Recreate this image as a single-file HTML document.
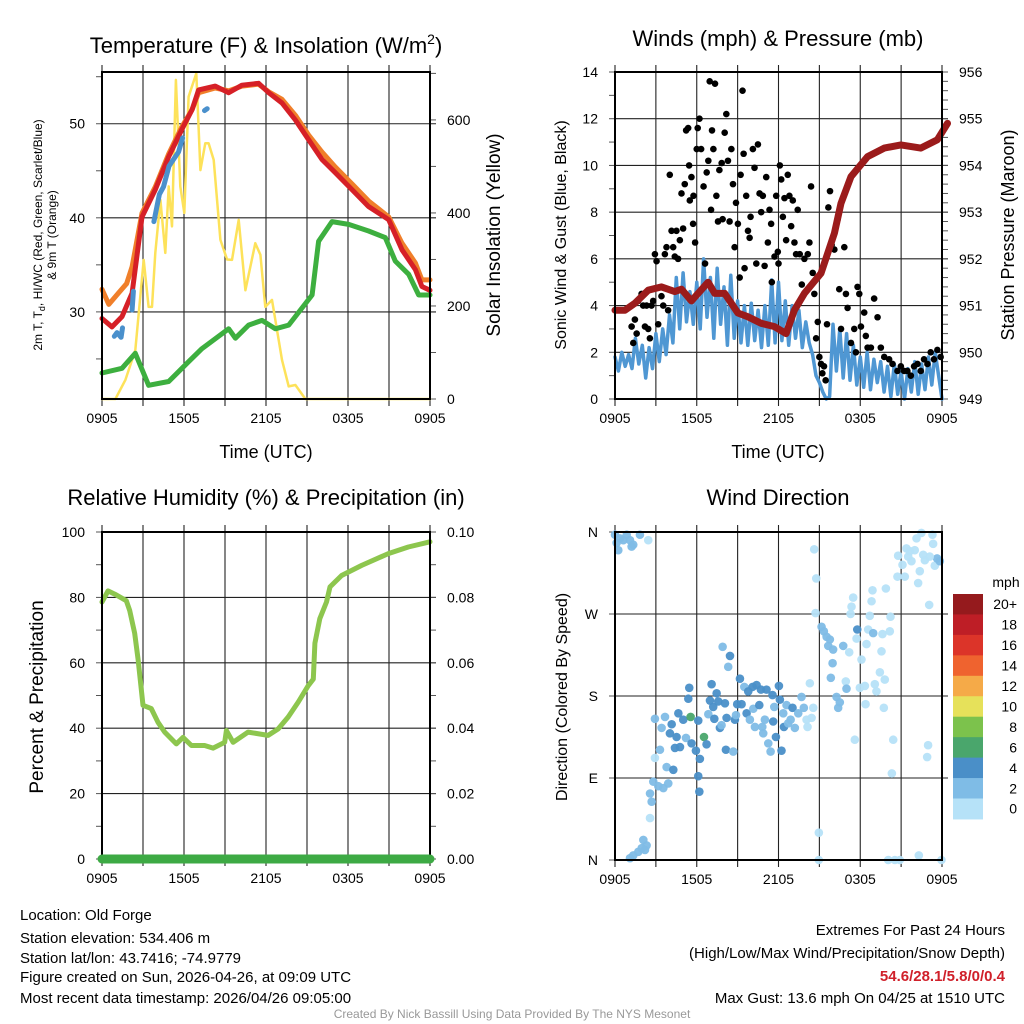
<!DOCTYPE html>
<html><head><meta charset="utf-8"><style>
html,body{margin:0;padding:0;background:#fff}
svg{display:block;font-family:"Liberation Sans",Arial,sans-serif}
</style></head><body>
<svg id="root" width="1024" height="1024" viewBox="0 0 1024 1024" xmlns="http://www.w3.org/2000/svg">
<rect width="1024" height="1024" fill="#fff"/>
<g id="p1"></g>
<g id="p2"></g>
<g id="p3"></g>
<g id="p4"></g>

<text x="266" y="53" font-size="22" text-anchor="middle">Temperature (F) &amp; Insolation (W/m<tspan font-size="14" dy="-9">2</tspan><tspan dy="9">)</tspan></text>
<text x="778" y="46" font-size="22" text-anchor="middle">Winds (mph) &amp; Pressure (mb)</text>
<text x="266" y="505" font-size="22" text-anchor="middle">Relative Humidity (%) &amp; Precipitation (in)</text>
<text x="778" y="505" font-size="22" text-anchor="middle">Wind Direction</text>

<text x="266" y="458" font-size="18" text-anchor="middle">Time (UTC)</text>
<text x="778" y="458" font-size="18" text-anchor="middle">Time (UTC)</text>

<text transform="translate(42,235) rotate(-90)" font-size="12" text-anchor="middle">2m T, T<tspan font-size="9" dy="3">d</tspan><tspan dy="-3">, HI/WC (Red, Green, Scarlet/Blue)</tspan></text>
<text transform="translate(56,235) rotate(-90)" font-size="12" text-anchor="middle">&amp; 9m T (Orange)</text>
<text transform="translate(500,235) rotate(-90)" font-size="19" text-anchor="middle">Solar Insolation (Yellow)</text>
<text transform="translate(566,235) rotate(-90)" font-size="16" text-anchor="middle">Sonic Wind &amp; Gust (Blue, Black)</text>
<text transform="translate(1014,235) rotate(-90)" font-size="18" text-anchor="middle">Station Pressure (Maroon)</text>
<text transform="translate(43,697) rotate(-90)" font-size="19" text-anchor="middle">Percent &amp; Precipitation</text>
<text transform="translate(567,697) rotate(-90)" font-size="16" text-anchor="middle">Direction (Colored By Speed)</text>

<g font-size="15">
<text x="20" y="920">Location: Old Forge</text>
<text x="20" y="943">Station elevation: 534.406 m</text>
<text x="20" y="963">Station lat/lon: 43.7416; -74.9779</text>
<text x="20" y="982">Figure created on Sun, 2026-04-26, at 09:09 UTC</text>
<text x="20" y="1003">Most recent data timestamp: 2026/04/26 09:05:00</text>
</g>
<g font-size="15" text-anchor="end">
<text x="1005" y="935">Extremes For Past 24 Hours</text>
<text x="1005" y="958">(High/Low/Max Wind/Precipitation/Snow Depth)</text>
<text x="1005" y="981" fill="#d0202a" font-weight="bold">54.6/28.1/5.8/0/0.4</text>
<text x="1005" y="1003">Max Gust: 13.6 mph On 04/25 at 1510 UTC</text>
</g>
<text x="512" y="1018" font-size="12" fill="#999" text-anchor="middle">Created By Nick Bassill Using Data Provided By The NYS Mesonet</text>
</svg>
<script>
// ---------- data ----------
const xTickLabels = ["0905","1505","2105","0305","0905"];
const tempHours = [0,0.73,1.46,2.2,2.93,3.9,4.88,5.85,6.59,7.07,8.29,9.27,10.24,11.46,12.2,13.17,14.15,15.12,16.1,17.07,18.29,19.5,20.98,21.95,22.93,23.41,24];
const tempVals  = [29.3,28.4,29.5,32.0,40.1,43.0,46.5,49.4,51.5,53.6,54.0,53.3,54.1,54.3,53.3,52.2,50.4,48.3,46.2,44.8,43.0,41.2,39.8,36.6,34.5,32.7,32.3];
const temp9Hours = [0,0.5,1.2,1.8,2.2,2.93,3.9,4.88,5.85,6.59,7.07,8.29,9.27,10.24,11.46,12.2,13.17,14.15,15.12,16.1,17.07,18.29,19.5,20.98,21.95,22.93,23.41,24];
const temp9Vals  = [32.4,30.8,32.0,33.0,34.8,40.5,43.3,46.8,49.7,51.5,53.3,53.8,53.5,54.0,54.2,53.4,52.6,50.9,48.8,47.0,45.4,43.6,41.8,40.1,37.3,35.2,33.4,33.4];
const hiwcHours = [0.9,1.1,1.4,1.5,null,2.2,2.3,null,3.8,4.2,4.5,4.9,5.6,5.9,null,7.5,7.7];
const hiwcVals  = [27.4,27.8,27.3,28.3,null,30.2,32.2,null,39.6,42.5,43.3,45.5,47.0,48.5,null,51.4,51.6];
const dewHours = [0,1.46,2.44,3.41,4.88,6.34,7.32,9.27,9.76,10.73,11.71,12.68,13.66,14.63,15.37,15.85,16.83,18.05,19.51,20.73,21.46,22.44,23.17,24];
const dewVals  = [23.5,24.0,25.6,22.2,22.6,24.7,26.1,28.2,27.2,28.6,29.1,28.2,28.6,30.4,31.8,37.5,39.6,39.3,38.6,37.9,35.4,34.0,31.8,31.8];
const solarHours = [0,0.98,1.71,2.44,3.05,3.41,3.66,3.9,4.27,4.63,4.88,5.12,5.41,5.73,6.02,6.34,6.9,7.2,7.56,7.8,8.17,8.66,9.15,9.51,10.0,10.49,11.22,11.59,11.95,12.44,13.17,13.66,14.15,14.88,24];
const solarVals  = [0,0,41,105,299,198,198,314,428,314,457,371,686,457,400,650,700,492,550,550,514,342,300,299,385,234,335,310,198,213,84,27,30,0,0];
const pressHours = [0,0.73,1.46,2.44,3.41,4.39,4.88,5.61,6.83,7.32,8.05,9.02,9.76,10.73,11.71,12.56,13.17,13.9,15.12,16.1,16.59,17.32,18.54,19.76,20.98,22.44,23.66,24.4];
const pressVals  = [950.9,950.9,951.05,951.33,951.4,951.3,951.35,951.1,951.5,951.26,951.26,950.84,950.76,950.62,950.55,950.4,950.9,951.26,951.69,952.55,953.19,953.76,954.19,954.37,954.44,954.37,954.55,954.9];
const windVals = [1.8,1.2,2.0,1.4,1.9,1.3,2.6,1.5,2.3,0.9,2.2,1.3,2.8,1.6,3.0,1.9,3.6,2.4,5.2,3.0,5.4,3.3,4.6,3.2,5.0,3.0,6.0,3.5,5.2,2.6,5.6,3.2,4.8,2.3,5.3,2.6,4.2,2.4,4.0,2.3,4.1,2.5,3.8,2.2,4.0,2.3,5.1,2.4,5.0,2.5,4.2,2.3,4.0,2.6,3.8,2.2,3.3,2.4,1.9,1.0,0.7,0.3,0.0,0.1,3.2,1.2,3.0,0.9,2.8,0.8,2.3,0.6,1.8,0.5,2.0,0.4,1.7,0.7,1.6,0.3,1.4,0.1,1.5,0.2,1.2,0.0,1.3,0.3,1.6,0.2,1.5,0.4,1.8,0.6,2.0,1.0,0.0];
const windStepHours = 0.25;
const gustHours = [1.22,1.34,1.46,1.59,1.71,1.95,2.07,2.2,2.32,2.44,2.56,2.68,2.8,2.93,3.05,3.17,3.54,3.41,3.66,3.78,3.9,4.02,4.15,4.27,4.39,4.51,4.63,4.76,4.88,5.0,5.12,5.22,5.37,5.44,5.49,5.61,5.73,5.76,5.88,6.0,6.07,6.2,6.32,6.5,6.61,6.73,6.85,6.95,7.05,7.12,7.22,7.34,7.44,7.56,7.66,7.83,7.9,8.05,8.17,8.29,8.41,8.54,8.66,8.78,8.88,9.02,9.15,9.22,9.36,9.44,9.51,9.63,9.76,9.88,9.95,10.12,10.24,10.37,10.49,10.61,10.73,10.85,10.98,11.1,11.22,11.34,11.46,11.51,11.71,11.83,11.95,12.0,12.1,12.2,12.32,12.44,12.56,12.68,12.8,12.93,13.05,13.17,13.29,13.41,13.56,13.71,13.9,14.15,14.27,14.39,14.51,14.63,14.76,14.88,15.0,15.12,15.22,15.34,15.46,15.56,15.66,15.78,15.9,16.1,16.34,16.46,16.59,16.83,16.95,17.07,17.32,17.56,17.68,17.8,17.93,18.05,18.29,18.41,18.54,18.78,19.02,19.27,19.51,19.76,20.12,20.37,20.73,20.98,21.22,21.46,21.71,21.95,22.2,22.44,22.68,22.93,23.17,23.41,23.66,23.9];
const gustVals  = [3.1,2.4,3.4,2.8,4.2,4.5,4.0,3.1,4.0,3.0,2.6,4.0,4.2,6.2,5.9,3.2,4.0,4.4,6.2,6.5,3.8,9.6,7.2,6.5,6.1,7.2,6.0,6.8,8.8,7.3,9.2,11.5,11.6,10.0,8.5,9.5,7.5,8.7,6.7,10.7,11.6,12.0,10.7,9.1,5.8,9.7,10.2,13.6,8.1,11.5,10.7,13.5,8.7,7.6,9.8,10.1,7.7,11.4,12.2,10.2,7.6,10.7,9.2,6.5,8.4,7.5,5.2,9.6,13.2,10.5,5.6,8.7,7.2,6.9,7.8,10.7,9.9,5.8,10.9,8.8,8.0,8.7,5.7,9.5,6.7,8.1,7.5,5.0,6.1,8.7,6.3,5.8,10.0,9.4,7.8,8.6,6.8,9.6,8.7,7.4,8.5,6.7,6.2,8.1,6.2,4.9,6.0,6.2,6.7,9.1,5.4,4.5,2.6,3.3,1.8,1.5,1.1,1.4,0.8,3.2,8.2,8.9,6.6,6.4,7.7,4.7,3.0,6.5,4.5,3.9,2.4,3.0,2.0,4.8,4.5,3.1,3.7,2.7,2.2,2.2,4.3,3.5,2.2,1.8,1.7,1.5,1.2,1.4,1.2,1.2,1.0,1.4,1.5,1.2,1.7,1.5,2.0,1.7,2.1,1.8,2.2];
const rhHours = [0,0.44,0.93,1.78,2.03,2.39,2.64,3.0,3.61,4.1,4.59,5.44,5.93,6.54,7.51,8.13,8.98,9.1,9.59,10.69,12.15,12.89,13.62,14.36,15.09,15.46,15.58,15.94,16.43,16.68,17.53,19.0,20.95,22.41,24];
const rhVals  = [78.6,82,81,79,76,69,61,47,46,41.8,38.8,35.2,37.2,34.7,34.7,33.9,35.7,39.3,35.7,38.8,37.8,39.8,43.4,48,53,55,66,73.5,78.6,83.2,86.7,89.8,93.4,95.4,97];
const precipHours = [0,24];
const precipVals = [0,0];
const wdHour = [0,0.12,0.37,0.61,0.86,1.10,1.34,0.24,1.83,2.44,1.22,1.10,1.34,1.71,1.96,2.2,2.32,2.08,2.57,2.69,2.57,2.81,3.18,3.55,3.91,2.93,3.30,3.42,2.93,3.79,4.28,3.67,4.16,4.03,4.52,4.65,4.40,4.77,5.01,5.21,5.38,5.45,5.55,5.62,5.94,6.11,6.23,6.11,6.19,6.53,6.72,6.85,7.09,7.29,6.97,7.21,7.46,7.58,7.70,7.82,8.07,8.14,8.19,8.31,8.44,7.90,8.68,8.80,8.88,8.97,9.17,9.29,9.49,9.66,9.78,9.90,10.1,10.15,10.27,10.39,10.59,10.71,10.81,10.88,11.0,11.12,11.25,11.42,11.56,11.61,11.69,11.81,12.03,12.1,12.22,12.35,12.4,12.59,12.71,12.89,13.03,13.2,13.45,13.69,13.86,14.06,14.13,14.3,14.43,14.55,14.62,14.77,14.72,14.96,14.96,15.16,15.33,15.53,15.65,15.77,16.01,15.97,15.84,16.26,16.38,16.5,16.75,16.94,16.99,17.19,17.29,17.36,17.48,17.6,17.73,17.78,17.97,18.09,18.34,18.39,18.46,18.58,18.7,18.83,18.9,18.95,19.07,19.19,19.44,19.56,19.63,19.73,19.8,19.88,20.05,20.22,20.17,20.32,20.42,20.54,20.73,20.78,20.9,21.1,21.27,21.39,21.52,21.64,21.76,22.0,22.13,22.25,22.3,22.37,22.49,22.62,22.98,22.91,23.06,23.3,23.35,23.47,23.64,23.84,23.96,22.74,23.1];
const wdDeg = [357,348,353,351,357,351,346,340,357,351,344,2,5,9,13,11,16,22,46,64,73,86,81,79,84,112,121,145,155,102,99,157,149,139,135,161,123,124,154,134,177,189,157,128,120,153,111,92,75,135,127,160,193,155,175,168,183,174,145,148,172,121,156,212,224,234,119,154,159,171,199,171,190,161,185,154,190,166,146,192,170,187,146,139,154,187,128,119,181,152,168,135,191,176,120,161,146,170,150,154,167,145,161,179,167,154,146,194,156,167,341,309,271,30,0,256,251,245,235,242,231,216,200,179,167,173,235,196,188,228,270,278,288,132,243,253,189,220,191,171,237,253,268,284,296,249,193,185,206,229,248,167,198,298,0,267,251,95,132,0,311,334,0,324,311,342,333,339,328,340,353,304,5,317,359,335,126,113,280,357,347,323,331,328,0,329,333];
const wdSpd = [
 3,3,3,3,3,3,3,3,3,1,3,
 3,3,3,3,3,3,3,
 1,
 3,3,3,3,3,3,
 1,
 3,3,3,3,
 5,3,5,5,5,5,5,5,5,
 3,5,5,7,5,5,5,5,5,5,7,5,3,5,5,5,5,5,5,5,3,
 5,5,5,3,5,3,3,5,3,5,5,5,3,5,5,3,5,3,3,5,
 5,5,3,3,3,5,3,3,5,5,3,5,5,5,5,3,5,3,3,3,
 5,3,3,3,3,
 1,1,1,1,1,1,1,1,1,1,
 3,3,3,3,3,3,3,3,3,3,3,3,
 1,3,1,1,1,1,1,1,5,
 1,1,1,1,1,1,1,1,1,3,
 1,1,1,1,1,1,1,1,1,1,1,1,1,1,1,1,1,1,1,1,1,1,1,1,1,1,1,1,1,1,1,1,1,1,1,1,
 3,3,1,1,1];
const speedBins = ["0","2","4","6","8","10","12","14","16","18","20+"];
const speedColors = ["#b6e2f8","#7fbce6","#4a8fc8","#4aa66c","#7cc24c","#e6e15a","#f5aa48","#ef632f","#dc3429","#be1e26","#951a1d"];

// ---------- helpers ----------
const NS = "http://www.w3.org/2000/svg";
function mk(parent, tag, attrs){
  const e = document.createElementNS(NS, tag);
  for (const k in attrs) e.setAttribute(k, attrs[k]);
  parent.appendChild(e);
  return e;
}
function lin(d0,d1,r0,r1){ return v => r0 + (v-d0)*(r1-r0)/(d1-d0); }
function pathFrom(xs, ys, sx, sy){
  let d = "", pen = false;
  for (let i=0;i<xs.length;i++){
    if (xs[i]===null || ys[i]===null){ pen=false; continue; }
    d += (pen?"L":"M") + sx(xs[i]).toFixed(1) + "," + sy(ys[i]).toFixed(1);
    pen = true;
  }
  return d;
}
function frame(g, L, R, T, B){
  const sx = lin(0,24,L,R);
  for (let h=0; h<=24; h+=3){
    const gl = mk(g,"line",{x1:sx(h),x2:sx(h),y1:T-7,y2:B+7,stroke:"#222","stroke-width":1.1});
    
    
  }
  xTickLabels.forEach((t,i)=>{
    const tx = mk(g,"text",{x:sx(i*6),y:B+24,"font-size":14,"text-anchor":"middle"});
    tx.textContent = t;
    
    
  });
  return sx;
}
function yGrid(g, L, R, ys){
  ys.forEach(y=>{
    const gl = mk(g,"line",{x1:L,x2:R+6,y1:y,y2:y,stroke:"#222","stroke-width":1.1});
    
    
  });
}
function yTicks(g, x, side, vals, sy, fmt, minorStep, dmin, dmax){
  vals.forEach(v=>{
    const y = sy(v);
    const t = mk(g,"text",{x: side<0 ? x-17 : x+17, y:y+5,"font-size":14,"text-anchor": side<0?"end":"start"});
    t.textContent = fmt(v);
    
    
  });
  for (let v=dmin; v<=dmax+1e-9; v+=minorStep){
    const y = sy(v);
    const tk = mk(g,"line",{x1:x,x2:x+side*6,y1:y,y2:y,stroke:"#555","stroke-width":1});
    
    
  }
}
function border(g,L,R,T,B){
  const r = mk(g,"rect",{x:L,y:T,width:R-L,height:B-T,fill:"none",stroke:"#000","stroke-width":2});
  
  
}
function line(g, xs, ys, sx, sy, color, w, name){
  const p = mk(g,"path",{d:pathFrom(xs,ys,sx,sy),fill:"none",stroke:color,"stroke-width":w,"stroke-linejoin":"round","stroke-linecap":"round"});
  
  
  return p;
}

// ---------- panel 1 ----------
(function(){
  const g = document.getElementById("p1");
  const L=102,R=430,T=72,B=399;
  const sx = frame(g,L,R,T,B);
  const sy = lin(20.74,55.5,B,T);
  const sw = lin(0,703,B,T);
  yGrid(g,L,R,[30,40,50].map(sy));
  yTicks(g,L,-1,[30,40,50],sy,v=>String(v),5,25,55);
  yTicks(g,R,1,[0,200,400,600],sw,v=>String(v),100,0,700);
  line(g,solarHours,solarVals,sx,sw,"#fde25a",2.5,"solar-insolation-line");
  line(g,dewHours,dewVals,sx,sy,"#3daf3f",5,"dewpoint-line");
  line(g,temp9Hours,temp9Vals,sx,sy,"#f07f2a",5,"temperature-9m-line");
  line(g,tempHours,tempVals,sx,sy,"#d62027",5,"temperature-2m-line");
  line(g,hiwcHours,hiwcVals,sx,sy,"#4a90cc",5,"heat-index-windchill-line");
  border(g,L,R,T,B);
})();

// ---------- panel 2 ----------
(function(){
  const g = document.getElementById("p2");
  const L=615,R=942,T=72,B=399;
  const sx = frame(g,L,R,T,B);
  const sy = lin(0,14,B,T);
  const sp = lin(949,956,B,T);
  yGrid(g,L,R,[2,4,6,8,10,12].map(sy));
  yTicks(g,L,-1,[0,2,4,6,8,10,12,14],sy,v=>String(v),1,0,14);
  yTicks(g,R,1,[949,950,951,952,953,954,955,956],sp,v=>String(v),0.2,949,956);
  const wh = windVals.map((v,i)=>i*windStepHours);
  line(g,wh,windVals,sx,sy,"#4f97d3",3.5,"sonic-wind-line");
  gustHours.forEach((h,i)=>{
    const c = mk(g,"circle",{cx:sx(h),cy:sy(gustVals[i]),r:3.3,fill:"#000"});
    
    
  });
  line(g,pressHours,pressVals,sx,sp,"#9b1b1b",7,"pressure-line");
  border(g,L,R,T,B);
})();

// ---------- panel 3 ----------
(function(){
  const g = document.getElementById("p3");
  const L=102,R=430,T=532,B=859;
  const sx = frame(g,L,R,T,B);
  const sy = lin(0,100,B,T);
  const sr = lin(0,0.1,B,T);
  yGrid(g,L,R,[20,40,60,80].map(sy));
  yTicks(g,L,-1,[0,20,40,60,80,100],sy,v=>String(v),10,0,100);
  yTicks(g,R,1,[0,0.02,0.04,0.06,0.08,0.1],sr,v=>v.toFixed(2),0.01,0,0.1);
  line(g,rhHours,rhVals,sx,sy,"#8dc64e",5,"relative-humidity-line");
  border(g,L,R,T,B);
  line(g,precipHours,precipVals,sx,sr,"#3daa44",9,"precipitation-line");
})();

// ---------- panel 4 ----------
(function(){
  const g = document.getElementById("p4");
  const L=615,R=942,T=532,B=860;
  const sx = frame(g,L,R,T,B);
  const sy = lin(0,360,B,T);
  yGrid(g,L,R,[90,180,270].map(sy));
  const labs=["N","E","S","W","N"];
  labs.forEach((t,i)=>{
    const tx = mk(g,"text",{x:L-17,y:sy(i*90)+5,"font-size":14,"text-anchor":"end"});
    tx.textContent = t;
    
    
    const tk = mk(g,"line",{x1:L,x2:L-6,y1:sy(i*90),y2:sy(i*90),stroke:"#555"});
    
    
  });
  wdHour.forEach((h,i)=>{
    const s = (wdSpd[i]===undefined) ? 1 : wdSpd[i];
    const idx = Math.min(10, Math.floor(s/2));
    const c = mk(g,"circle",{cx:sx(h),cy:sy(wdDeg[i]),r:4.3,fill:speedColors[idx],"fill-opacity":0.95});
    
    
  });
  border(g,L,R,T,B);
  const cbT=594, cbH=20.45;
  const unit = mk(g,"text",{x:1006,y:587,"font-size":14,"text-anchor":"middle"});
  unit.textContent = "mph";
  
  
  speedBins.forEach((lab,i)=>{
    const k = speedBins.length-1-i;
    const y = cbT + i*cbH;
    const r = mk(g,"rect",{x:953,y:y,width:30,height:cbH+0.5,fill:speedColors[k]});
    
    
    const t = mk(g,"text",{x:1017,y:y+cbH/2+5,"font-size":14,"text-anchor":"end"});
    t.textContent = speedBins[k];
    
    
  });
})();
</script>
</body></html>
